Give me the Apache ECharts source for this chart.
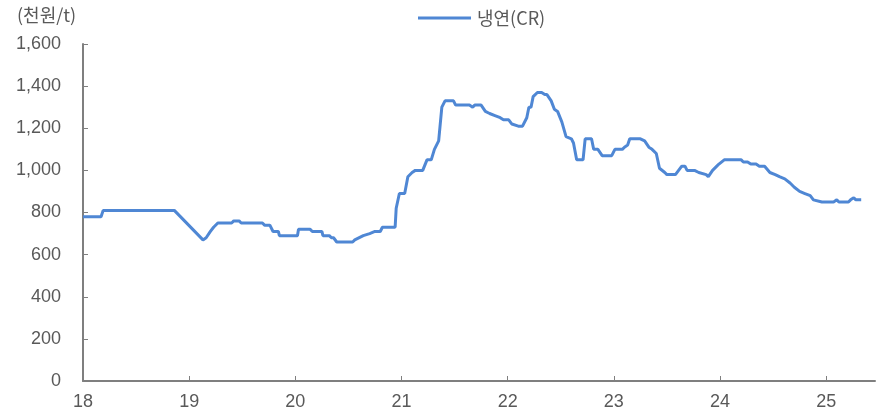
<!DOCTYPE html>
<html>
<head>
<meta charset="utf-8">
<script src="https://cdn.jsdelivr.net/npm/echarts@6/dist/echarts.min.js"></script>
<style>
html,body{margin:0;padding:0;background:#fff;}
#c{width:879px;height:416px;}
</style>
</head>
<body>
<div id="c"></div>
<script>
// decimal year (yy.xx) of each point
const years = [
  18.00,18.17,18.19,18.86,19.13,19.16,19.20,19.23,19.27,19.40,19.42,19.47,19.49,19.69,19.71,19.76,19.79,19.84,19.85,20.02,
  20.03,20.04,20.14,20.16,20.25,20.26,20.32,20.34,20.36,20.39,20.54,20.56,20.64,20.70,20.75,20.80,20.82,20.94,20.95,20.98,
  21.03,21.06,21.10,21.13,21.20,21.24,21.28,21.31,21.35,21.38,21.41,21.49,21.51,21.64,21.67,21.69,21.75,21.79,21.83,21.88,
  21.93,21.96,22.01,22.04,22.10,22.14,22.18,22.20,22.22,22.24,22.28,22.32,22.35,22.37,22.41,22.44,22.47,22.51,22.55,22.60,
  22.62,22.65,22.71,22.73,22.79,22.81,22.85,22.89,22.98,23.01,23.08,23.10,23.13,23.15,23.25,23.29,23.33,23.36,23.40,23.43,
  23.48,23.50,23.58,23.61,23.64,23.67,23.69,23.76,23.80,23.87,23.89,23.93,23.97,23.99,24.04,24.20,24.22,24.26,24.29,24.34,
  24.37,24.42,24.47,24.52,24.56,24.61,24.66,24.70,24.75,24.80,24.85,24.88,24.96,25.07,25.10,25.12,25.21,25.23,25.26,25.28,
  25.33
];
// 냉연(CR) price, 천원/t
const crValues = [
  780,780,810,810,670,680,710,730,750,750,760,760,750,750,740,740,710,710,690,690,
  720,720,720,710,710,690,690,680,680,660,660,670,690,700,710,710,730,730,820,890,
  890,970,990,1000,1000,1050,1050,1100,1140,1300,1330,1330,1310,1310,1300,1310,1310,1280,1270,1260,
  1250,1240,1240,1220,1210,1210,1250,1300,1300,1350,1370,1370,1360,1360,1330,1290,1280,1230,1160,1150,
  1130,1050,1050,1150,1150,1100,1100,1070,1070,1100,1100,1110,1120,1150,1150,1140,1110,1100,1080,1010,
  990,980,980,1000,1020,1020,1000,1000,990,980,970,1000,1020,1030,1050,1050,1040,1040,1030,1030,
  1020,1020,990,980,970,960,940,920,900,890,880,860,850,850,860,850,850,860,870,860,
  860
];
const xTicks = [18,19,20,21,22,23,24,25];
const yTicks = [0,200,400,600,800,1000,1200,1400,1600];
const seriesName = '냉연(CR)';
const unitLabel = '(천원/t)';

const FONT = '"Liberation Sans", "Noto Sans CJK KR", sans-serif';
const KFONT = '"Noto Sans CJK KR", "Liberation Sans", sans-serif';
const TXT = '#595959';
const AX = '#7f7f7f';

const chart = echarts.init(document.getElementById('c'), null, {renderer:'canvas'});
chart.setOption({
  animation:false,
  textStyle:{fontFamily:FONT},
  title:{
    text:unitLabel, left:12, top:1,
    textStyle:{fontSize:18, fontWeight:'normal', color:TXT, fontFamily:KFONT}
  },
  legend:{
    data:[seriesName], top:4, left:413,
    icon:'rect', itemWidth:53, itemHeight:3, itemGap:6,
    textStyle:{fontSize:18, color:TXT, fontFamily:KFONT, padding:[0,0,0,1]}
  },
  grid:{left:83, right:4, top:44, bottom:35, containLabel:false},
  xAxis:{
    type:'value', min:18, max:25.46, interval:1,
    axisLine:{show:true, lineStyle:{color:AX, width:2}},
    axisTick:{show:true, inside:true, length:5, lineStyle:{color:AX, width:1}, customValues:xTicks},
    axisLabel:{color:TXT, fontSize:18, margin:12, fontFamily:FONT, customValues:xTicks},
    splitLine:{show:false}
  },
  yAxis:{
    type:'value', min:0, max:1600, interval:200,
    axisLine:{show:true, lineStyle:{color:AX, width:2}},
    axisTick:{show:true, inside:true, length:5, lineStyle:{color:AX, width:1}},
    axisLabel:{color:TXT, fontSize:18, margin:22, fontFamily:FONT,
      formatter:function(v){return v.toLocaleString('en-US');}},
    splitLine:{show:false}
  },
  series:[{
    name:seriesName, type:'line', showSymbol:false, symbol:'none',
    data:years.map(function(y,i){return [y, crValues[i]];}),
    lineStyle:{color:'#4f87d4', width:3},
    itemStyle:{color:'#4f87d4'}
  }]
});
</script>
</body>
</html>
